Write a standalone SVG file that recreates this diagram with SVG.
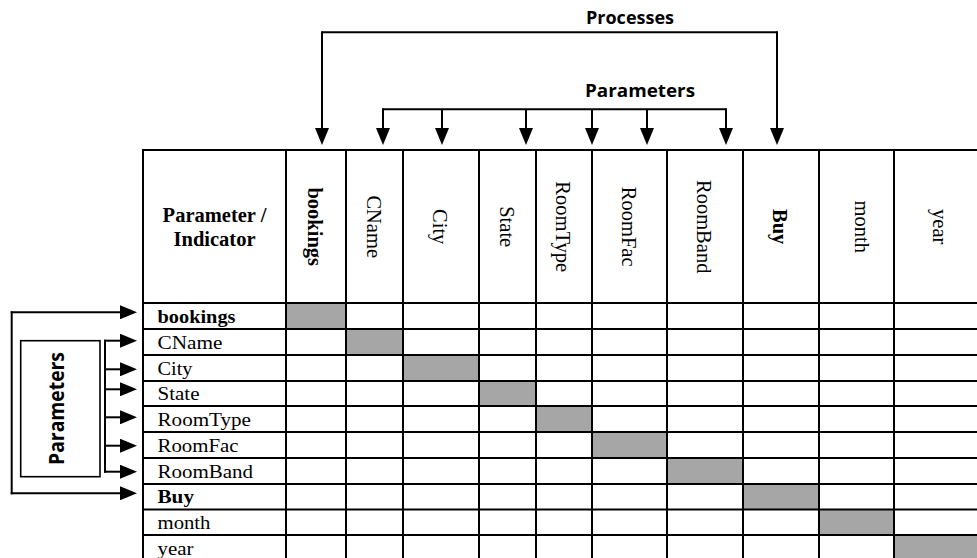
<svg xmlns="http://www.w3.org/2000/svg" width="977" height="558" viewBox="0 0 977 558">
  <style>
    .grid line { stroke: #000; stroke-width: 2; }
    .hit { fill: #a6a6a6; }
    .serif { font-family: "Liberation Serif", "Times New Roman", serif; fill: #000; }
    .row { font-size: 19.5px; }
    .col { font-size: 20.5px; text-anchor: middle; }
    .b { font-weight: bold; }
    .sans { font-family: "Open Sans", "Liberation Sans", Arial, sans-serif; font-weight: bold; fill: #000; }
    .conn { stroke: #000; stroke-width: 2; fill: none; }
    .arrow { stroke: #000; stroke-width: 2; fill: none; marker-end: url(#ah); }
  </style>
  <defs>
    <marker id="ah" markerUnits="userSpaceOnUse" viewBox="0 0 17 14" markerWidth="17" markerHeight="14" refX="1" refY="7" orient="auto">
      <path d="M0,0 L17,7 L0,14 z" fill="#000"/>
    </marker>
  </defs>
  <rect width="977" height="558" fill="#fff"/>

  <!-- dependency matrix -->
  <g id="matrix">
    <!-- diagonal (self) cells -->
    <g id="diagonal">
      <rect class="hit" x="286" y="303" width="60" height="26"/>
      <rect class="hit" x="346" y="329" width="57" height="26"/>
      <rect class="hit" x="403" y="355" width="76" height="26"/>
      <rect class="hit" x="479" y="381" width="57" height="25"/>
      <rect class="hit" x="536" y="406" width="56" height="26"/>
      <rect class="hit" x="592" y="432" width="75" height="26"/>
      <rect class="hit" x="667" y="458" width="76" height="26"/>
      <rect class="hit" x="743" y="484" width="76" height="25.5"/>
      <rect class="hit" x="819" y="509.5" width="75" height="25.5"/>
      <rect class="hit" x="894" y="535" width="96" height="26"/>
    </g>
    <g class="grid">
      <line x1="143" y1="150" x2="990" y2="150"/>
      <line x1="143" y1="303" x2="990" y2="303"/>
      <line x1="143" y1="329" x2="990" y2="329"/>
      <line x1="143" y1="355" x2="990" y2="355"/>
      <line x1="143" y1="381" x2="990" y2="381"/>
      <line x1="143" y1="406" x2="990" y2="406"/>
      <line x1="143" y1="432" x2="990" y2="432"/>
      <line x1="143" y1="458" x2="990" y2="458"/>
      <line x1="143" y1="484" x2="990" y2="484"/>
      <line x1="143" y1="509.5" x2="990" y2="509.5"/>
      <line x1="143" y1="535" x2="990" y2="535"/>
      <line x1="143" y1="149" x2="143" y2="562"/>
      <line x1="286" y1="149" x2="286" y2="562"/>
      <line x1="346" y1="149" x2="346" y2="562"/>
      <line x1="403" y1="149" x2="403" y2="562"/>
      <line x1="479" y1="149" x2="479" y2="562"/>
      <line x1="536" y1="149" x2="536" y2="562"/>
      <line x1="592" y1="149" x2="592" y2="562"/>
      <line x1="667" y1="149" x2="667" y2="562"/>
      <line x1="743" y1="149" x2="743" y2="562"/>
      <line x1="819" y1="149" x2="819" y2="562"/>
      <line x1="894" y1="149" x2="894" y2="562"/>
    </g>

    <!-- corner header -->
    <g id="corner">
      <text class="serif b" font-size="20.5" text-anchor="middle" x="214.5" y="221.5">Parameter /</text>
      <text class="serif b" font-size="20.5" text-anchor="middle" x="214.5" y="246">Indicator</text>
    </g>

    <!-- column headers (rotated) -->
    <g id="col-headers" class="serif col">
      <text class="b" transform="translate(308,226.7) rotate(90)">bookings</text>
      <text transform="translate(366.5,226.7) rotate(90)">CName</text>
      <text transform="translate(433,226.7) rotate(90)">City</text>
      <text transform="translate(499.5,226.7) rotate(90)">State</text>
      <text transform="translate(556,226.7) rotate(90)">RoomType</text>
      <text transform="translate(621.5,226.7) rotate(90)">RoomFac</text>
      <text transform="translate(697,226.7) rotate(90)">RoomBand</text>
      <text class="b" transform="translate(773,226.7) rotate(90)">Buy</text>
      <text transform="translate(855,226.7) rotate(90)">month</text>
      <text transform="translate(932.5,226.7) rotate(90)">year</text>
    </g>

    <!-- row headers -->
    <g id="row-headers" class="serif row">
      <text class="b" x="157.5" y="322.5" textLength="78" lengthAdjust="spacingAndGlyphs">bookings</text>
      <text x="157.5" y="348.5" textLength="65" lengthAdjust="spacingAndGlyphs">CName</text>
      <text x="157.5" y="374.5" textLength="35" lengthAdjust="spacingAndGlyphs">City</text>
      <text x="157.5" y="399.5" textLength="42" lengthAdjust="spacingAndGlyphs">State</text>
      <text x="157.5" y="425.5" textLength="93.5" lengthAdjust="spacingAndGlyphs">RoomType</text>
      <text x="157.5" y="451.5" textLength="81" lengthAdjust="spacingAndGlyphs">RoomFac</text>
      <text x="157.5" y="477.5" textLength="95.5" lengthAdjust="spacingAndGlyphs">RoomBand</text>
      <text class="b" x="157.5" y="503" textLength="36.5" lengthAdjust="spacingAndGlyphs">Buy</text>
      <text x="157.5" y="528.5" textLength="53" lengthAdjust="spacingAndGlyphs">month</text>
      <text x="157.5" y="554.5" textLength="36" lengthAdjust="spacingAndGlyphs">year</text>
    </g>
  </g>

  <!-- group labels -->
  <g id="processes-label">
    <text class="sans" font-size="18" x="586" y="24" textLength="88" lengthAdjust="spacingAndGlyphs">Processes</text>
  </g>
  <g id="parameters-label-top">
    <text class="sans" font-size="18" x="585" y="96.5" textLength="110" lengthAdjust="spacingAndGlyphs">Parameters</text>
  </g>
  <g id="parameters-box">
    <rect x="20.7" y="340.7" width="79.3" height="136" fill="none" stroke="#000" stroke-width="1.6"/>
    <text class="sans" font-size="21" text-anchor="middle" transform="translate(64,408.5) rotate(-90)" textLength="113" lengthAdjust="spacingAndGlyphs">Parameters</text>
  </g>

  <!-- connectors -->
  <g id="connectors">
    <!-- processes bracket (top) -->
    <path class="conn" d="M322,32.3 H777"/>
    <line class="arrow" x1="322" y1="31.3" x2="322" y2="129"/>
    <line class="arrow" x1="777" y1="31.3" x2="777" y2="129"/>
    <!-- parameters bracket (top) -->
    <path class="conn" d="M383,109.3 H726"/>
    <line class="arrow" x1="383" y1="108.3" x2="383" y2="129"/>
    <line class="arrow" x1="442" y1="109.3" x2="442" y2="129"/>
    <line class="arrow" x1="526" y1="109.3" x2="526" y2="129"/>
    <line class="arrow" x1="592" y1="109.3" x2="592" y2="129"/>
    <line class="arrow" x1="647" y1="109.3" x2="647" y2="129"/>
    <line class="arrow" x1="726" y1="108.3" x2="726" y2="129"/>
    <!-- processes bracket (left) -->
    <path class="conn" d="M11.7,311.3 V494.3"/>
    <line class="arrow" x1="10.7" y1="312.3" x2="121" y2="312.3"/>
    <line class="arrow" x1="10.7" y1="493.3" x2="121" y2="493.3"/>
    <!-- parameters bracket (left) -->
    <path class="conn" d="M105,339.7 V472.7"/>
    <line class="arrow" x1="104" y1="340.7" x2="121" y2="340.7"/>
    <line class="arrow" x1="105" y1="369.3" x2="121" y2="369.3"/>
    <line class="arrow" x1="105" y1="389.3" x2="121" y2="389.3"/>
    <line class="arrow" x1="105" y1="417.3" x2="121" y2="417.3"/>
    <line class="arrow" x1="105" y1="445.7" x2="121" y2="445.7"/>
    <line class="arrow" x1="104" y1="471.7" x2="121" y2="471.7"/>
  </g>
</svg>
